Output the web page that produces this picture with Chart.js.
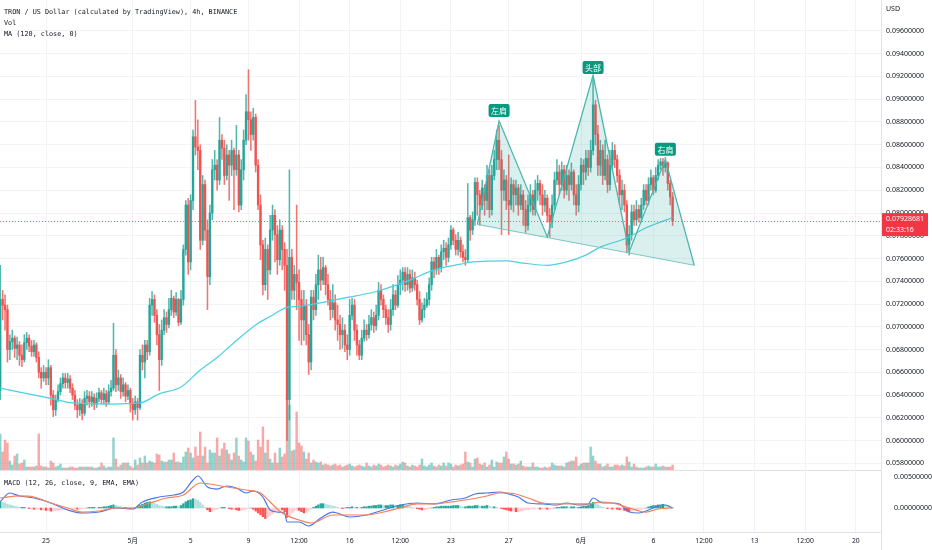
<!DOCTYPE html>
<html>
<head>
<meta charset="utf-8">
<script src="https://cdn.jsdelivr.net/npm/chart.js@4.4.1/dist/chart.umd.min.js"></script>
<style>
  body { margin: 0; background: #fff; width: 932px; height: 550px; overflow: hidden; position: relative; }
  canvas { position: absolute; left: 0; }
  #price { top: 0; }
  #macd { top: 470px; }
  .lbl { position: absolute; left: 4px; font: 6.8px "DejaVu Sans Mono", monospace; color: #131722; white-space: nowrap; line-height: 8px; }
</style>
</head>
<body>
<canvas id="price" width="932" height="471"></canvas>
<canvas id="macd" width="932" height="80"></canvas>
<div class="lbl" style="top:8px">TRON / US Dollar (calculated by TradingView), 4h, BINANCE</div>
<div class="lbl" style="top:19px">Vol</div>
<div class="lbl" style="top:30px">MA (120, close, 0)</div>
<div class="lbl" style="top:479px">MACD (12, 26, close, 9, EMA, EMA)</div>
<script>
// candle index 0 = 25 Apr 00:00, one step = 4h
const firstIndex = -19;
const firstOpen = 0.0644;

const closes = [
  0.0724,0.0719,0.0715,0.0680,0.0687,0.0690,0.0681,0.0684,0.0675,0.0671,
  0.0686,0.0690,0.0683,0.0678,0.0684,0.0673,0.0660,0.0655,0.0660,0.0655,
  0.0664,0.0640,0.0627,0.0636,0.0643,0.0650,0.0655,0.0651,0.0654,0.0646,
  0.0640,0.0631,0.0627,0.0632,0.0624,0.0637,0.0639,0.0634,0.0638,0.0632,
  0.0637,0.0642,0.0636,0.0641,0.0634,0.0643,0.0646,0.0675,0.0649,0.0655,
  0.0643,0.0649,0.0639,0.0644,0.0632,0.0627,0.0634,0.0629,0.0675,0.0669,
  0.0684,0.0678,0.0719,0.0724,0.0710,0.0693,0.0671,0.0697,0.0708,0.0702,
  0.0715,0.0725,0.0713,0.0724,0.0704,0.0724,0.0768,0.0807,0.0757,0.0811,
  0.0867,0.0858,0.0855,0.0776,0.0825,0.0785,0.0744,0.0800,0.0838,0.0842,
  0.0829,0.0864,0.0857,0.0833,0.0851,0.0842,0.0855,0.0838,0.0851,0.0807,
  0.0838,0.0864,0.0889,0.0882,0.0869,0.0884,0.0842,0.0807,0.0772,0.0737,
  0.0768,0.0750,0.0785,0.0798,0.0781,0.0759,0.0785,0.0768,0.0754,0.0636,
  0.0761,0.0732,0.0746,0.0739,0.0724,0.0706,0.0719,0.0693,0.0669,0.0726,
  0.0715,0.0737,0.0750,0.0741,0.0752,0.0737,0.0724,0.0715,0.0721,0.0706,
  0.0702,0.0693,0.0697,0.0684,0.0680,0.0710,0.0719,0.0697,0.0684,0.0675,
  0.0690,0.0697,0.0693,0.0702,0.0708,0.0701,0.0710,0.0732,0.0724,0.0715,
  0.0708,0.0702,0.0715,0.0728,0.0719,0.0737,0.0741,0.0748,0.0737,0.0746,
  0.0734,0.0743,0.0737,0.0724,0.0706,0.0715,0.0719,0.0724,0.0737,0.0757,
  0.0750,0.0761,0.0752,0.0766,0.0769,0.0761,0.0772,0.0785,0.0776,0.0768,
  0.0776,0.0766,0.0761,0.0759,0.0796,0.0785,0.0794,0.0827,0.0816,0.0807,
  0.0822,0.0811,0.0833,0.0803,0.0833,0.0847,0.0864,0.0847,0.0820,0.0829,
  0.0811,0.0807,0.0825,0.0816,0.0822,0.0807,0.0816,0.0803,0.0789,0.0807,
  0.0816,0.0803,0.0820,0.0826,0.0816,0.0807,0.0813,0.0798,0.0792,0.0807,
  0.0829,0.0836,0.0825,0.0838,0.0820,0.0833,0.0825,0.0836,0.0816,0.0807,
  0.0825,0.0842,0.0836,0.0848,0.0840,0.0855,0.0895,0.0869,0.0842,0.0855,
  0.0833,0.0847,0.0825,0.0842,0.0855,0.0847,0.0833,0.0816,0.0820,0.0807,
  0.0772,0.0781,0.0801,0.0794,0.0803,0.0796,0.0807,0.0820,0.0811,0.0825,
  0.0831,0.0820,0.0833,0.0842,0.0845,0.0840,0.0844,0.0826,0.0814,0.07928681
];

const highs = [
  0.0754,0.0732,0.0728,0.0719,0.0693,0.0697,0.0692,0.0691,0.0687,0.0684,
  0.0693,0.0695,0.0693,0.0688,0.0688,0.0686,0.0678,0.0664,0.0666,0.0664,
  0.0671,0.0666,0.0644,0.0640,0.0649,0.0655,0.0659,0.0659,0.0659,0.0657,
  0.0650,0.0644,0.0636,0.0637,0.0636,0.0643,0.0644,0.0643,0.0643,0.0641,
  0.0642,0.0646,0.0644,0.0646,0.0644,0.0649,0.0653,0.0703,0.0680,0.0662,
  0.0658,0.0655,0.0651,0.0649,0.0646,0.0637,0.0639,0.0637,0.0680,0.0684,
  0.0688,0.0688,0.0725,0.0731,0.0728,0.0715,0.0702,0.0706,0.0715,0.0713,
  0.0725,0.0732,0.0727,0.0730,0.0725,0.0732,0.0772,0.0811,0.0813,0.0816,
  0.0873,0.0899,0.0882,0.0860,0.0833,0.0829,0.0794,0.0807,0.0847,0.0855,
  0.0847,0.0884,0.0869,0.0864,0.0860,0.0855,0.0864,0.0857,0.0877,0.0855,
  0.0847,0.0873,0.0904,0.0926,0.0889,0.0892,0.0887,0.0847,0.0816,0.0776,
  0.0778,0.0772,0.0798,0.0807,0.0803,0.0789,0.0794,0.0789,0.0774,0.0768,
  0.0838,0.0768,0.0754,0.0807,0.0750,0.0732,0.0732,0.0724,0.0702,0.0732,
  0.0732,0.0746,0.0763,0.0761,0.0761,0.0754,0.0746,0.0732,0.0737,0.0728,
  0.0719,0.0710,0.0708,0.0702,0.0693,0.0724,0.0725,0.0724,0.0702,0.0688,
  0.0697,0.0706,0.0702,0.0710,0.0715,0.0713,0.0719,0.0739,0.0737,0.0728,
  0.0719,0.0715,0.0724,0.0737,0.0732,0.0745,0.0750,0.0752,0.0752,0.0752,
  0.0750,0.0750,0.0748,0.0741,0.0731,0.0721,0.0725,0.0730,0.0743,0.0761,
  0.0761,0.0768,0.0763,0.0772,0.0776,0.0774,0.0778,0.0789,0.0787,0.0781,
  0.0783,0.0779,0.0772,0.0768,0.0826,0.0798,0.0801,0.0831,0.0831,0.0820,
  0.0829,0.0825,0.0842,0.0838,0.0842,0.0855,0.0873,0.0877,0.0855,0.0838,
  0.0833,0.0851,0.0831,0.0829,0.0829,0.0825,0.0825,0.0820,0.0811,0.0816,
  0.0825,0.0820,0.0829,0.0833,0.0829,0.0825,0.0820,0.0816,0.0804,0.0816,
  0.0836,0.0847,0.0842,0.0845,0.0842,0.0842,0.0838,0.0844,0.0838,0.0825,
  0.0833,0.0848,0.0847,0.0855,0.0855,0.0864,0.0919,0.0899,0.0877,0.0864,
  0.0860,0.0864,0.0851,0.0855,0.0862,0.0860,0.0851,0.0838,0.0829,0.0825,
  0.0811,0.0789,0.0807,0.0807,0.0811,0.0807,0.0813,0.0825,0.0825,0.0831,
  0.0838,0.0833,0.0840,0.0847,0.0848,0.0848,0.0849,0.0845,0.0829,0.0818
];

const lows = [
  0.0636,0.0706,0.0697,0.0669,0.0671,0.0680,0.0673,0.0671,0.0666,0.0665,
  0.0669,0.0680,0.0678,0.0674,0.0674,0.0669,0.0655,0.0646,0.0652,0.0649,
  0.0649,0.0631,0.0621,0.0622,0.0634,0.0640,0.0646,0.0646,0.0646,0.0642,
  0.0636,0.0627,0.0620,0.0622,0.0618,0.0622,0.0631,0.0629,0.0630,0.0627,
  0.0629,0.0634,0.0632,0.0632,0.0630,0.0632,0.0639,0.0644,0.0643,0.0644,
  0.0637,0.0639,0.0634,0.0636,0.0625,0.0618,0.0623,0.0618,0.0627,0.0662,
  0.0655,0.0671,0.0675,0.0710,0.0704,0.0684,0.0644,0.0666,0.0693,0.0695,
  0.0699,0.0710,0.0708,0.0710,0.0701,0.0702,0.0719,0.0763,0.0746,0.0750,
  0.0803,0.0851,0.0838,0.0768,0.0772,0.0776,0.0715,0.0737,0.0794,0.0829,
  0.0820,0.0825,0.0847,0.0825,0.0829,0.0811,0.0833,0.0803,0.0833,0.0801,
  0.0803,0.0829,0.0860,0.0864,0.0855,0.0864,0.0836,0.0803,0.0759,0.0728,
  0.0732,0.0724,0.0746,0.0776,0.0757,0.0746,0.0754,0.0750,0.0732,0.0600,
  0.0618,0.0724,0.0724,0.0715,0.0688,0.0684,0.0688,0.0684,0.0658,0.0662,
  0.0706,0.0710,0.0724,0.0732,0.0737,0.0728,0.0719,0.0706,0.0708,0.0697,
  0.0688,0.0680,0.0681,0.0678,0.0671,0.0675,0.0706,0.0688,0.0675,0.0671,
  0.0671,0.0687,0.0688,0.0690,0.0697,0.0695,0.0697,0.0706,0.0719,0.0708,
  0.0702,0.0695,0.0697,0.0710,0.0715,0.0717,0.0728,0.0732,0.0731,0.0732,
  0.0730,0.0731,0.0732,0.0719,0.0702,0.0704,0.0708,0.0717,0.0719,0.0732,
  0.0743,0.0746,0.0746,0.0748,0.0759,0.0754,0.0757,0.0768,0.0772,0.0763,
  0.0763,0.0761,0.0757,0.0754,0.0757,0.0776,0.0781,0.0789,0.0798,0.0789,
  0.0803,0.0798,0.0803,0.0796,0.0798,0.0829,0.0838,0.0838,0.0781,0.0811,
  0.0803,0.0781,0.0803,0.0801,0.0807,0.0798,0.0803,0.0789,0.0783,0.0785,
  0.0801,0.0798,0.0798,0.0811,0.0807,0.0798,0.0801,0.0792,0.0779,0.0787,
  0.0803,0.0825,0.0816,0.0820,0.0813,0.0816,0.0811,0.0820,0.0807,0.0798,
  0.0801,0.0820,0.0825,0.0829,0.0833,0.0836,0.0851,0.0860,0.0833,0.0833,
  0.0825,0.0829,0.0818,0.0820,0.0838,0.0840,0.0827,0.0807,0.0803,0.0801,
  0.0765,0.0763,0.0776,0.0789,0.0789,0.0792,0.0792,0.0803,0.0807,0.0807,
  0.0820,0.0816,0.0818,0.0829,0.0838,0.0833,0.0836,0.0820,0.0807,0.0789
];

// volume, millions
const volumes = [
  36,18,30,27,9,5,14,16,6,7,
  10,3,3,3,3,4,36,4,3,3,
  2,9,7,3,4,6,2,2,2,3,
  3,2,2,3,3,3,3,3,3,2,
  2,3,7,4,2,3,3,32,11,3,
  5,7,7,7,4,2,10,5,12,7,
  14,7,9,8,7,16,15,9,8,8,
  10,10,17,8,8,7,13,18,22,17,
  12,23,14,38,14,23,7,20,17,17,
  32,14,21,27,20,16,10,17,32,14,
  10,8,32,29,18,15,9,30,23,43,
  17,30,11,7,17,7,22,13,16,72,
  65,19,20,58,27,24,18,11,17,7,
  10,8,7,8,5,6,5,4,5,6,
  4,5,3,4,5,6,4,3,4,5,
  4,3,7,4,3,5,4,6,5,3,
  4,5,4,3,5,4,6,8,7,4,
  3,5,4,3,5,11,4,3,5,7,
  4,3,5,4,7,4,7,6,3,5,
  4,5,6,18,8,7,3,11,12,6,
  5,7,3,5,10,3,8,7,7,13,
  18,11,6,6,5,6,9,4,3,3,
  3,7,3,3,2,2,3,2,3,7,
  5,4,4,4,3,7,8,9,9,13,
  4,6,7,7,7,23,14,9,6,6,
  3,4,6,3,3,5,5,4,5,4,
  13,8,3,6,3,2,2,2,3,4,
  3,3,6,3,3,4,3,3,3,5
];

// MA(120)
const maIdx = [-19, 2, 11, 27, 39, 47, 56, 64, 71, 78, 88, 93, 100, 105, 123, 137, 151, 161, 172, 177, 191, 198, 208, 216, 224, 230, 241, 249, 260];
const maVal = [0.0646, 0.0637, 0.0633, 0.0632, 0.0633, 0.0641, 0.0647, 0.0662, 0.0673, 0.0686, 0.0703, 0.0709, 0.0717, 0.0718, 0.0725, 0.0731, 0.0741, 0.0750, 0.0755, 0.0757, 0.0758, 0.0756, 0.0754, 0.0757, 0.0763, 0.0770, 0.0778, 0.0787, 0.0796];

// MACD
const macdIdx = [-19,-15,-11,-5,2,9,15,22,29,36,40,47,53,57,61,63,67,71,75,79,83,86,90,93,96,99,100,105,109,114,119,126,133,140,147,154,161,168,174,178,183,188,192,196,200,206,212,216,221,225,227,231,235,238,242,246,250,254,257,260];
const macdVal = [0.00102,0.00242,0.00194,0.00161,0.00081,-0.00032,-0.00081,-0.00065,0,-0.00016,0.00097,0.00177,0.0021,0.00258,0.00452,0.00516,0.00339,0.00306,0.00355,0.00323,0.00242,0.00274,0.00177,-0.00032,-0.00065,-0.00081,-0.00226,-0.00226,-0.0029,-0.00161,-0.00065,-0.00145,-0.00113,-0.00032,0.00048,0.00081,0.00065,0.00129,0.00161,0.00226,0.00242,0.00258,0.00226,0.00177,0.00081,0.00065,0.00048,0.00081,0.00048,0.00065,0.00161,0.00081,0.00081,0.00065,-0.00065,-0.00081,-0.00032,0.00032,0.00048,0];
const signalIdx = [-19,-11,-5,2,9,15,22,29,36,43,50,57,64,68,75,83,89,93,98,105,110,112,119,126,133,140,147,154,161,168,174,183,188,192,200,206,216,225,230,235,242,249,254,260];
const signalVal = [0.00161,0.00194,0.00177,0.00081,0,-0.00065,-0.00048,0,0,0.00081,0.00161,0.0021,0.00403,0.00387,0.00339,0.0029,0.00242,0.00097,-0.00081,-0.00194,-0.00242,-0.00226,-0.00113,-0.00113,-0.00113,-0.00065,0,0.00065,0.00065,0.00097,0.00129,0.00194,0.00242,0.00242,0.00161,0.00081,0.00065,0.00065,0.00097,0.00081,0,-0.00065,-0.00016,0];
const hist = [
  0.0010,0.0009,0.0008,0.0006,0.0005,0.0004,0.0003,0.0002,0.0001,0.0001,
  0.0001,0,-0.0001,-0.0001,-0.0002,-0.0002,-0.0002,-0.0003,-0.0003,-0.0004,
  -0.0004,-0.0005,-0.0005,-0.0004,-0.0004,-0.0003,-0.0003,-0.0002,-0.0002,-0.0001,
  -0.0001,-0.0001,-0.0002,-0.0002,-0.0001,-0.0001,0,0.0001,0.0001,0.0001,
  0,0.0001,0.0001,0.0002,0.0002,0.0003,0.0004,0.0005,0.0004,0.0003,
  0.0002,0.0001,0.0001,0,-0.0001,-0.0001,0,0.0002,0.0004,0.0006,
  0.0008,0.0009,0.0010,0.0009,0.0008,0.0006,0.0004,0.0003,0.0002,0.0002,
  0.0002,0.0002,0.0003,0.0003,0.0002,0.0004,0.0007,0.0010,0.0012,0.0013,
  0.0015,0.0014,0.0012,0.0009,0.0005,0.0001,-0.0003,-0.0006,-0.0005,-0.0003,
  -0.0002,-0.0001,0.0001,0.0001,0,-0.0001,-0.0002,-0.0002,-0.0003,-0.0004,
  -0.0004,-0.0003,-0.0002,-0.0001,0,-0.0002,-0.0005,-0.0008,-0.0011,-0.0014,
  -0.0017,-0.0015,-0.0012,-0.0009,-0.0006,-0.0004,-0.0002,-0.0003,-0.0006,-0.0015,
  -0.0013,-0.0008,-0.0005,-0.0003,-0.0004,-0.0006,-0.0008,-0.0007,-0.0005,-0.0002,
  0.0001,0.0003,0.0005,0.0007,0.0007,0.0006,0.0005,0.0004,0.0003,0.0002,
  0.0001,0,-0.0001,0,0.0001,0.0001,0.0002,0.0001,0.0001,0,
  0.0001,0.0002,0.0002,0.0003,0.0003,0.0004,0.0004,0.0005,0.0005,0.0004,
  0.0004,0.0004,0.0005,0.0005,0.0004,0.0004,0.0005,0.0005,0.0004,0.0003,
  0.0002,0.0001,0,-0.0001,-0.0002,-0.0003,-0.0003,-0.0002,-0.0001,0,
  0.0001,0.0002,0.0002,0.0003,0.0003,0.0003,0.0003,0.0003,0.0004,0.0004,
  0.0004,0.0003,0.0002,0.0002,0.0003,0.0003,0.0003,0.0004,0.0004,0.0003,
  0.0003,0.0003,0.0004,0.0003,0.0002,0.0002,0.0001,0,-0.0001,-0.0002,
  -0.0003,-0.0004,-0.0005,-0.0005,-0.0006,-0.0006,-0.0005,-0.0004,-0.0003,-0.0003,
  -0.0002,-0.0002,-0.0001,-0.0001,-0.0002,-0.0002,-0.0001,-0.0002,-0.0002,-0.0001,
  0,0.0001,0.0001,0.0002,0.0002,0.0002,0.0001,0.0002,0.0002,0.0001,
  0.0001,0.0002,0.0003,0.0003,0.0004,0.0007,0.0009,0.0008,0.0005,0.0003,
  0.0001,0,-0.0001,-0.0001,-0.0002,-0.0001,-0.0002,-0.0003,-0.0003,-0.0004,
  -0.0005,-0.0006,-0.0005,-0.0004,-0.0003,-0.0002,-0.0002,-0.0001,0,0.0002,
  0.0003,0.0004,0.0004,0.0005,0.0005,0.0006,0.0005,0.0004,0.0002,0.0001
];

// head and shoulders drawing
const hsIdx = [179, 188, 208, 227, 242, 257, 269];
const hsPrice = [0.0790, 0.0881, 0.0779, 0.0921, 0.0766, 0.0847, 0.0754];
const hsLabels = ['左肩', '头部', '右肩'];
const hsLabelIdx = [188, 227, 257];
const hsLabelPrice = [0.0890, 0.0928, 0.0856];

// axes
const tickIdx = [0, 36, 60, 84, 105, 126, 147, 168, 192, 222, 252, 273, 294, 315, 336];
const tickLabels = ['25', '5月', '5', '9', '12:00', '16', '12:00', '23', '27', '6月', '6', '12:00', '13', '12:00', '20'];
const priceTicks = [0.058,0.060,0.062,0.064,0.066,0.068,0.070,0.072,0.074,0.076,0.078,0.080,0.082,0.084,0.086,0.088,0.090,0.092,0.094,0.096];
const macdTicks = [0.005, 0];
const countdown = '02:33:16';

const X_MIN = -19.09, X_MAX = 346.47;
const GREEN = '#26a69a', RED = '#ef5350';
const GRID = '#f2f3f6', EDGE = '#e0e3eb', TXT = '#131722';
const AXIS_FONT = { family: "'Noto Sans', 'Noto Sans CJK SC', sans-serif", size: 7 };

const idx = closes.map((_, k) => firstIndex + k);
const opens = closes.map((c, k) => (k === 0 ? firstOpen : closes[k - 1]));
const up = closes.map((c, k) => c >= opens[k]);
const lastPrice = closes[closes.length - 1];

function noPad(s) { s.paddingTop = 0; s.paddingBottom = 0; s.paddingLeft = 0; s.paddingRight = 0; }

const xBase = {
  type: 'linear', min: X_MIN, max: X_MAX, offset: false,
  grid: { color: GRID, drawTicks: false, offset: false },
  afterBuildTicks: s => { s.ticks = tickIdx.map(v => ({ value: v })); }
};

const pricePlugin = {
  id: 'pricePane',
  beforeDatasetsDraw(chart) {
    const { ctx, chartArea: a, scales: { y } } = chart;
    const py = Math.round(y.getPixelForValue(lastPrice)) + 0.5;
    ctx.save();
    ctx.strokeStyle = 'rgba(242,54,69,0.8)';
    ctx.lineWidth = 1;
    ctx.setLineDash([1, 2]);
    ctx.beginPath(); ctx.moveTo(a.left, py); ctx.lineTo(a.right, py); ctx.stroke();
    ctx.restore();
  },
  afterDatasetsDraw(chart) {
    const { ctx, scales: { x, y } } = chart;
    ctx.save();
    ctx.font = "8px 'Noto Sans CJK SC'";
    ctx.textAlign = 'center';
    ctx.textBaseline = 'middle';
    hsLabels.forEach((t, k) => {
      const cx = x.getPixelForValue(hsLabelIdx[k]);
      const cy = y.getPixelForValue(hsLabelPrice[k]);
      ctx.fillStyle = '#089981';
      ctx.beginPath(); ctx.roundRect(cx - 10.5, cy - 6.5, 21, 13, 2); ctx.fill();
      ctx.fillStyle = '#ffffff';
      ctx.fillText(t, cx, cy + 0.5);
    });
    ctx.restore();
  },
  afterDraw(chart) {
    const { ctx, chartArea: a, scales: { y } } = chart;
    const py = y.getPixelForValue(lastPrice);
    ctx.save();
    ctx.fillStyle = '#f23645';
    ctx.fillRect(a.right + 1, py - 8, 46, 23);
    ctx.fillStyle = '#ffffff';
    ctx.font = "7px 'Noto Sans'";
    ctx.textAlign = 'left';
    ctx.textBaseline = 'middle';
    ctx.fillText(lastPrice.toFixed(8), a.right + 5, py - 2);
    ctx.fillText(countdown, a.right + 5, py + 9);
    ctx.fillStyle = TXT;
    ctx.fillText('USD', a.right + 5, 9);
    ctx.restore();
  }
};

new Chart(document.getElementById('price'), {
  type: 'bar',
  data: {
    datasets: [
      {
        type: 'line', label: 'hs', order: 1,
        data: hsIdx.map((v, k) => ({ x: v, y: hsPrice[k] })),
        borderColor: '#4db6ac', borderWidth: 1.3, pointRadius: 0,
        fill: '+1', backgroundColor: 'rgba(38,166,154,0.17)'
      },
      {
        type: 'line', label: 'neck', order: 1,
        data: [{ x: hsIdx[0], y: hsPrice[0] }, { x: hsIdx[6], y: hsPrice[6] }],
        borderColor: '#80cbc4', borderWidth: 1, pointRadius: 0, fill: false
      },
      {
        type: 'line', label: 'MA', order: 2,
        data: maIdx.map((v, k) => ({ x: v, y: maVal[k] })),
        borderColor: '#4dd0e1', borderWidth: 1.2, pointRadius: 0,
        cubicInterpolationMode: 'monotone', fill: false
      },
      {
        label: 'body', order: 3, grouped: false, barThickness: 1.7,
        data: idx.map((v, k) => ({ x: v, y: [opens[k], closes[k]] })),
        backgroundColor: up.map(u => (u ? GREEN : RED))
      },
      {
        label: 'wick', order: 4, grouped: false, barThickness: 0.9,
        data: idx.map((v, k) => ({ x: v, y: [lows[k], highs[k]] })),
        backgroundColor: up.map(u => (u ? 'rgba(38,166,154,0.8)' : 'rgba(239,83,80,0.8)'))
      },
      {
        label: 'vol', order: 9, grouped: false, barThickness: 1.8, yAxisID: 'yv',
        data: idx.map((v, k) => ({ x: v, y: volumes[k] })),
        backgroundColor: up.map(u => (u ? 'rgba(38,166,154,0.5)' : 'rgba(239,83,80,0.5)'))
      }
    ]
  },
  options: {
    responsive: false, animation: false, events: [],
    layout: { padding: { top: 0, left: 0, right: 0, bottom: 1 } },
    plugins: { legend: { display: false }, tooltip: { enabled: false } },
    scales: {
      x: Object.assign({}, xBase, {
        ticks: { display: false },
        border: { display: true, color: EDGE },
        afterFit: s => { s.height = 0; noPad(s); }
      }),
      y: {
        position: 'right', min: 0.057407, max: 0.098725,
        afterBuildTicks: s => { s.ticks = priceTicks.map(v => ({ value: v })); },
        ticks: { callback: v => Number(v).toFixed(8), font: AXIS_FONT, color: TXT, padding: 5, autoSkip: false },
        grid: { color: GRID, drawTicks: false },
        border: { display: true, color: EDGE },
        afterFit: s => { s.width = 51; noPad(s); }
      },
      yv: { display: false, min: 0, max: 470 }
    }
  },
  plugins: [pricePlugin]
});

const macdPlugin = {
  id: 'macdPane',
  afterDraw(chart) {
    const { ctx, chartArea: a } = chart;
    ctx.save();
    ctx.strokeStyle = EDGE;
    ctx.lineWidth = 1;
    ctx.beginPath(); ctx.moveTo(a.right + 0.5, a.bottom); ctx.lineTo(a.right + 0.5, chart.height); ctx.stroke();
    ctx.restore();
  }
};

const histColors = hist.map((h, k) => {
  const p = k ? hist[k - 1] : h;
  if (h >= 0) return h >= p ? '#26a69a' : '#b2dfdb';
  return h < p ? '#ff5252' : '#ffcdd2';
});

new Chart(document.getElementById('macd'), {
  type: 'bar',
  data: {
    datasets: [
      {
        type: 'line', label: 'signal', order: 1, yAxisID: 'ym',
        data: signalIdx.map((v, k) => ({ x: v, y: signalVal[k] })),
        borderColor: '#f7805a', borderWidth: 1.2, pointRadius: 0, cubicInterpolationMode: 'monotone'
      },
      {
        type: 'line', label: 'macd', order: 2, yAxisID: 'ym',
        data: macdIdx.map((v, k) => ({ x: v, y: macdVal[k] })),
        borderColor: '#4c78e6', borderWidth: 1.2, pointRadius: 0, cubicInterpolationMode: 'monotone'
      },
      {
        label: 'hist', order: 3, grouped: false, barThickness: 1.7, yAxisID: 'ym',
        data: idx.map((v, k) => ({ x: v, y: hist[k] })),
        backgroundColor: histColors
      }
    ]
  },
  options: {
    responsive: false, animation: false, events: [],
    layout: { padding: 0 },
    plugins: { legend: { display: false }, tooltip: { enabled: false } },
    scales: {
      x: Object.assign({}, xBase, {
        ticks: {
          callback: (v, k) => tickLabels[k], font: { family: AXIS_FONT.family, size: 6.8 },
          color: TXT, padding: 5, autoSkip: false, maxRotation: 0
        },
        border: { display: true, color: EDGE },
        afterFit: s => { s.height = 18; noPad(s); }
      }),
      ym: {
        position: 'right', min: -0.003871, max: 0.006129,
        afterBuildTicks: s => { s.ticks = macdTicks.map(v => ({ value: v })); },
        ticks: { callback: v => Number(v).toFixed(8), font: AXIS_FONT, color: TXT, padding: 5, autoSkip: false },
        grid: { display: false },
        border: { display: true, color: EDGE },
        afterFit: s => { s.width = 51; noPad(s); }
      }
    }
  },
  plugins: [macdPlugin]
});
</script>
</body>
</html>
